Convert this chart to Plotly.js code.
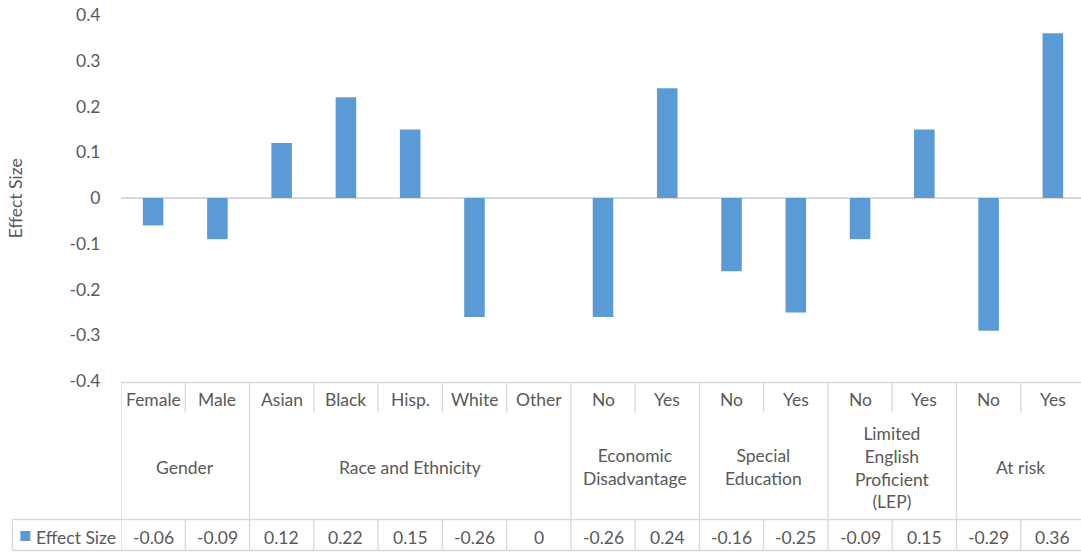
<!DOCTYPE html>
<html>
<head>
<meta charset="utf-8">
<script src="https://cdn.plot.ly/plotly-3.0.1.min.js"></script>
<style>
html,body{margin:0;padding:0;overflow:hidden;background:#fff;}
#chart{width:1090px;height:552px;}
</style>
</head>
<body>
<div id="chart"></div>
<script>
// ---- data ----
const categories = ["Female","Male","Asian","Black","Hisp.","White","Other","No","Yes","No","Yes","No","Yes","No","Yes"];
const values = [-0.06,-0.09,0.12,0.22,0.15,-0.26,0,-0.26,0.24,-0.16,-0.25,-0.09,0.15,-0.29,0.36];
const valueLabels = ["-0.06","-0.09","0.12","0.22","0.15","-0.26","0","-0.26","0.24","-0.16","-0.25","-0.09","0.15","-0.29","0.36"];
const groupNames = ["Gender","Race and Ethnicity","Economic<br>Disadvantage","Special<br>Education","Limited<br>English<br>Proficient<br>(LEP)","At risk"];
const groupSizes = [2,5,2,2,2,2];
const seriesName = "Effect Size";
const yTicks = [0.4,0.3,0.2,0.1,0,-0.1,-0.2,-0.3,-0.4];
const yTickText = ["0.4","0.3","0.2","0.1","0","-0.1","-0.2","-0.3","-0.4"];

// ---- layout geometry ----
const W = 1090, H = 552;
const mL = 120.7, mR = 5, mT = 15, mB = 171;
const plotH = H - mT - mB;
const plotW = W - mL - mR;
const py = p => (H - mB - p) / plotH;       // pixel y -> paper y
const px = p => (p - mL) / plotW;           // pixel x -> paper x
const textColor = "#595959";
const lineColor = "#D9D9D9";
const barColor = "#5B9BD5";
const FONT = "Lato, 'Open Sans', sans-serif";
const FS = 17.5;

const idx = categories.map((c, i) => i);
const n = categories.length;

const shapes = [];
const line = (x0, y0, x1, y1, xref) => shapes.push({
  type: "line", xref: xref || "x", yref: "paper",
  x0: x0, x1: x1, y0: py(y0), y1: py(y1),
  line: {color: lineColor, width: 1.3}
});

const yTop = 382.5, yMid = 412.5, yData = 519.5, yBot = 550.5;
// horizontal lines
line(-0.5, yTop, n - 0.5, yTop);
shapes.push({type:"line", xref:"paper", yref:"paper", x0: px(12), x1: 1, y0: py(yData), y1: py(yData), line:{color: lineColor, width:1.3}});
shapes.push({type:"line", xref:"paper", yref:"paper", x0: px(12), x1: 1, y0: py(yBot), y1: py(yBot), line:{color: lineColor, width:1.3}});
shapes.push({type:"line", xref:"paper", yref:"paper", x0: px(12), x1: px(12), y0: py(yData), y1: py(yBot), line:{color: lineColor, width:1.3}});

// group boundaries
const groupBounds = [0];
groupSizes.forEach(s => groupBounds.push(groupBounds[groupBounds.length - 1] + s));
for (let k = 0; k <= n; k++) {
  const xb = k - 0.5;
  if (groupBounds.includes(k)) {
    line(xb, yTop, xb, yBot);
  } else {
    line(xb, yTop, xb, yMid);
    line(xb, yData, xb, yBot);
  }
}

// legend key square
shapes.push({type:"rect", xref:"paper", yref:"paper", x0: px(20), x1: px(30), y0: py(541), y1: py(531), fillcolor: barColor, line:{width:0}});

const annotations = [];
const ann = (x, y, text, xref, extra) => annotations.push(Object.assign({
  x: x, y: py(y), xref: xref || "x", yref: "paper", text: text, showarrow: false,
  font: {family: FONT, size: FS, color: textColor}, xanchor: "center", yanchor: "middle"
}, extra || {}));

categories.forEach((c, i) => ann(i, 399, c));
valueLabels.forEach((v, i) => ann(i, 537, v));
groupNames.forEach((g, gi) => {
  const center = groupBounds[gi] + (groupSizes[gi] - 1) / 2;
  ann(center, 467, g, "x", {align: "center"});
});
ann(px(34), 537, seriesName, "paper", {xanchor: "left"});
ann(px(15), 198, seriesName, "paper", {textangle: -90});

const trace = {
  type: "bar",
  x: idx,
  y: values,
  name: seriesName,
  marker: {color: barColor},
  hoverinfo: "y"
};

const layout = {
  width: W, height: H,
  margin: {l: mL, r: mR, t: mT, b: mB, pad: 0},
  paper_bgcolor: "#fff", plot_bgcolor: "#fff",
  showlegend: false,
  bargap: 0.68,
  font: {family: FONT, size: FS, color: textColor},
  xaxis: {range: [-0.5, n - 0.5], showticklabels: false, showgrid: false, zeroline: false, showline: false, ticks: "", fixedrange: true},
  yaxis: {range: [-0.4, 0.4], tickvals: yTicks, ticktext: yTickText, showgrid: false,
    zeroline: true, zerolinecolor: lineColor, zerolinewidth: 1.3, showline: false,
    ticks: "outside", ticklen: 16, tickcolor: "rgba(0,0,0,0)",
    tickfont: {family: FONT, size: FS, color: textColor}, fixedrange: true},
  shapes: shapes,
  annotations: annotations
};

Plotly.newPlot("chart", [trace], layout, {displayModeBar: false, staticPlot: true});
</script>
</body>
</html>
